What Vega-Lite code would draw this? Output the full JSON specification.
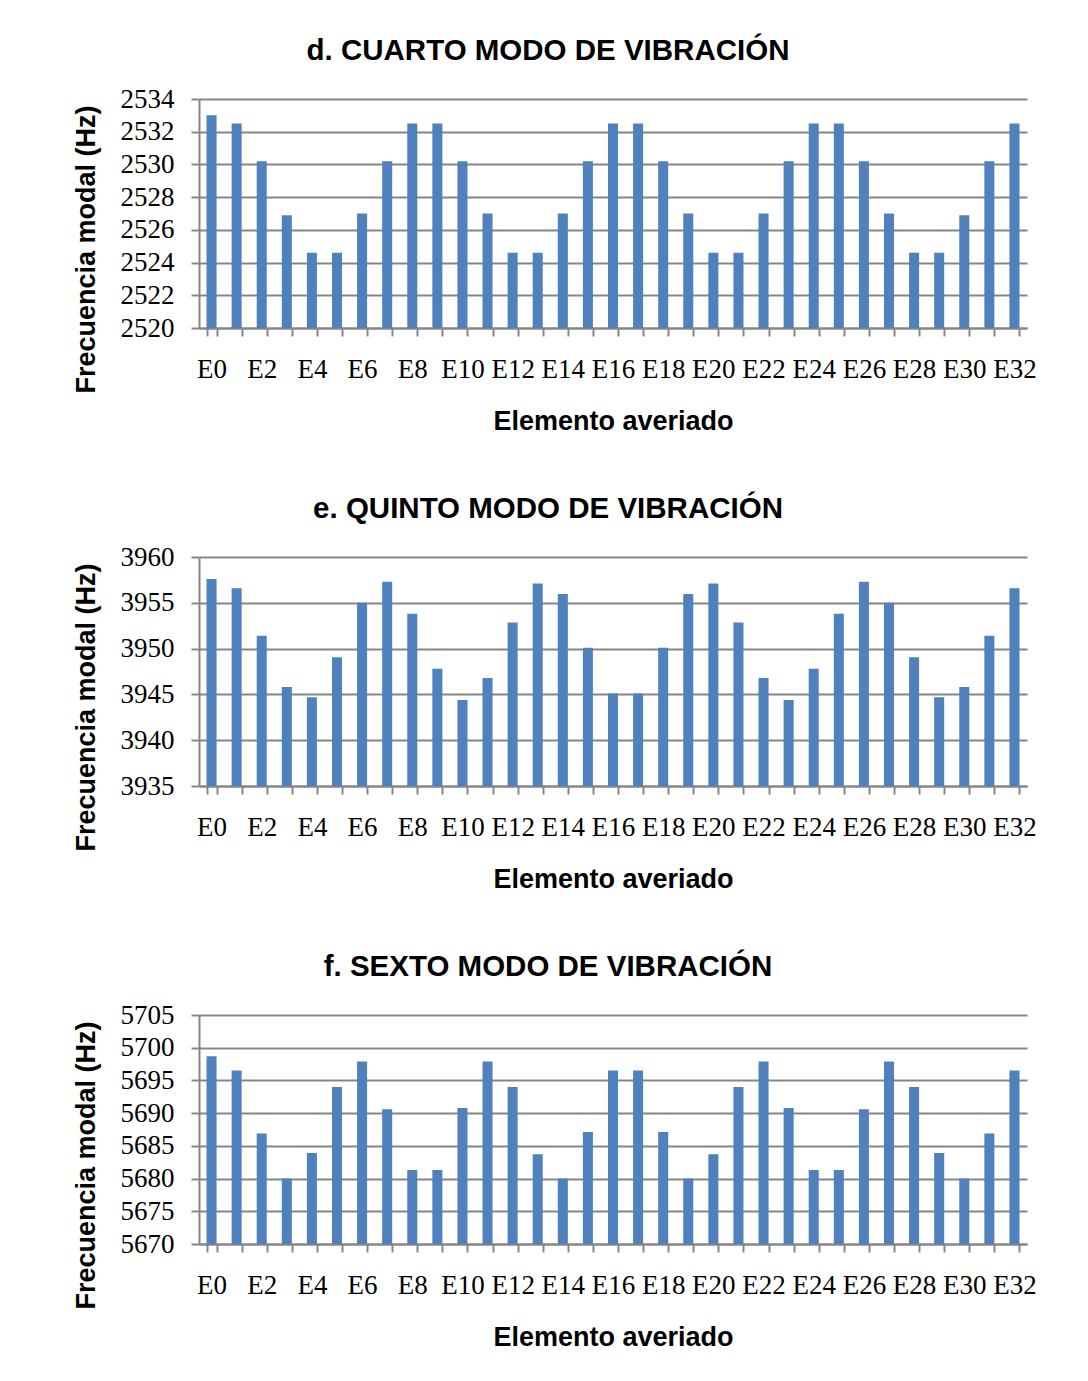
{
  "$schema": "https://vega.github.io/schema/vega-lite/v6.json",
  "background": "white",
  "padding": {"left": 71, "top": 35, "right": 40, "bottom": 5},
  "datasets": {
    "d": [
      {"elemento": "E0", "frecuencia": 2533.0}, {"elemento": "E1", "frecuencia": 2532.5}, {"elemento": "E2", "frecuencia": 2530.2},
      {"elemento": "E3", "frecuencia": 2526.9}, {"elemento": "E4", "frecuencia": 2524.6}, {"elemento": "E5", "frecuencia": 2524.6},
      {"elemento": "E6", "frecuencia": 2527.0}, {"elemento": "E7", "frecuencia": 2530.2}, {"elemento": "E8", "frecuencia": 2532.5},
      {"elemento": "E9", "frecuencia": 2532.5}, {"elemento": "E10", "frecuencia": 2530.2}, {"elemento": "E11", "frecuencia": 2527.0},
      {"elemento": "E12", "frecuencia": 2524.6}, {"elemento": "E13", "frecuencia": 2524.6}, {"elemento": "E14", "frecuencia": 2527.0},
      {"elemento": "E15", "frecuencia": 2530.2}, {"elemento": "E16", "frecuencia": 2532.5}, {"elemento": "E17", "frecuencia": 2532.5},
      {"elemento": "E18", "frecuencia": 2530.2}, {"elemento": "E19", "frecuencia": 2527.0}, {"elemento": "E20", "frecuencia": 2524.6},
      {"elemento": "E21", "frecuencia": 2524.6}, {"elemento": "E22", "frecuencia": 2527.0}, {"elemento": "E23", "frecuencia": 2530.2},
      {"elemento": "E24", "frecuencia": 2532.5}, {"elemento": "E25", "frecuencia": 2532.5}, {"elemento": "E26", "frecuencia": 2530.2},
      {"elemento": "E27", "frecuencia": 2527.0}, {"elemento": "E28", "frecuencia": 2524.6}, {"elemento": "E29", "frecuencia": 2524.6},
      {"elemento": "E30", "frecuencia": 2526.9}, {"elemento": "E31", "frecuencia": 2530.2}, {"elemento": "E32", "frecuencia": 2532.5}
    ],
    "e": [
      {"elemento": "E0", "frecuencia": 3957.6}, {"elemento": "E1", "frecuencia": 3956.6}, {"elemento": "E2", "frecuencia": 3951.4},
      {"elemento": "E3", "frecuencia": 3945.8}, {"elemento": "E4", "frecuencia": 3944.7}, {"elemento": "E5", "frecuencia": 3949.05},
      {"elemento": "E6", "frecuencia": 3955.0}, {"elemento": "E7", "frecuencia": 3957.3}, {"elemento": "E8", "frecuencia": 3953.8},
      {"elemento": "E9", "frecuencia": 3947.8}, {"elemento": "E10", "frecuencia": 3944.4}, {"elemento": "E11", "frecuencia": 3946.8},
      {"elemento": "E12", "frecuencia": 3952.85}, {"elemento": "E13", "frecuencia": 3957.1}, {"elemento": "E14", "frecuencia": 3955.95},
      {"elemento": "E15", "frecuencia": 3950.1}, {"elemento": "E16", "frecuencia": 3945.1}, {"elemento": "E17", "frecuencia": 3945.1},
      {"elemento": "E18", "frecuencia": 3950.1}, {"elemento": "E19", "frecuencia": 3955.95}, {"elemento": "E20", "frecuencia": 3957.1},
      {"elemento": "E21", "frecuencia": 3952.85}, {"elemento": "E22", "frecuencia": 3946.8}, {"elemento": "E23", "frecuencia": 3944.4},
      {"elemento": "E24", "frecuencia": 3947.8}, {"elemento": "E25", "frecuencia": 3953.8}, {"elemento": "E26", "frecuencia": 3957.3},
      {"elemento": "E27", "frecuencia": 3955.0}, {"elemento": "E28", "frecuencia": 3949.05}, {"elemento": "E29", "frecuencia": 3944.7},
      {"elemento": "E30", "frecuencia": 3945.8}, {"elemento": "E31", "frecuencia": 3951.4}, {"elemento": "E32", "frecuencia": 3956.6}
    ],
    "f": [
      {"elemento": "E0", "frecuencia": 5698.7}, {"elemento": "E1", "frecuencia": 5696.5}, {"elemento": "E2", "frecuencia": 5686.9},
      {"elemento": "E3", "frecuencia": 5680.0}, {"elemento": "E4", "frecuencia": 5683.9}, {"elemento": "E5", "frecuencia": 5694.0},
      {"elemento": "E6", "frecuencia": 5697.9}, {"elemento": "E7", "frecuencia": 5690.6}, {"elemento": "E8", "frecuencia": 5681.3},
      {"elemento": "E9", "frecuencia": 5681.3}, {"elemento": "E10", "frecuencia": 5690.8}, {"elemento": "E11", "frecuencia": 5697.9},
      {"elemento": "E12", "frecuencia": 5694.0}, {"elemento": "E13", "frecuencia": 5683.7}, {"elemento": "E14", "frecuencia": 5680.0},
      {"elemento": "E15", "frecuencia": 5687.1}, {"elemento": "E16", "frecuencia": 5696.5}, {"elemento": "E17", "frecuencia": 5696.5},
      {"elemento": "E18", "frecuencia": 5687.1}, {"elemento": "E19", "frecuencia": 5680.0}, {"elemento": "E20", "frecuencia": 5683.7},
      {"elemento": "E21", "frecuencia": 5694.0}, {"elemento": "E22", "frecuencia": 5697.9}, {"elemento": "E23", "frecuencia": 5690.8},
      {"elemento": "E24", "frecuencia": 5681.3}, {"elemento": "E25", "frecuencia": 5681.3}, {"elemento": "E26", "frecuencia": 5690.6},
      {"elemento": "E27", "frecuencia": 5697.9}, {"elemento": "E28", "frecuencia": 5694.0}, {"elemento": "E29", "frecuencia": 5683.9},
      {"elemento": "E30", "frecuencia": 5680.0}, {"elemento": "E31", "frecuencia": 5686.9}, {"elemento": "E32", "frecuencia": 5696.5}
    ]
  },
  "vconcat": [
    {
      "width": 828, "height": 229,
      "title": {"text": "d. CUARTO MODO DE VIBRACIÓN"},
      "data": {"name": "d"},
      "mark": {"type": "bar", "color": "#4F81BD", "clip": true},
      "encoding": {
        "x": {"field": "elemento", "type": "nominal", "sort": null, "title": "Elemento averiado",
              "scale": {"paddingInner": 0.6, "paddingOuter": 0.3}},
        "y": {"field": "frecuencia", "type": "quantitative", "title": "Frecuencia modal (Hz)",
              "scale": {"domain": [2520, 2534], "nice": false, "zero": false},
              "axis": {"values": [2520, 2522, 2524, 2526, 2528, 2530, 2532, 2534]}}
      }
    },
    {
      "width": 828, "height": 229,
      "title": {"text": "e. QUINTO MODO DE VIBRACIÓN"},
      "data": {"name": "e"},
      "mark": {"type": "bar", "color": "#4F81BD", "clip": true},
      "encoding": {
        "x": {"field": "elemento", "type": "nominal", "sort": null, "title": "Elemento averiado",
              "scale": {"paddingInner": 0.6, "paddingOuter": 0.3}},
        "y": {"field": "frecuencia", "type": "quantitative", "title": "Frecuencia modal (Hz)",
              "scale": {"domain": [3935, 3960], "nice": false, "zero": false},
              "axis": {"values": [3935, 3940, 3945, 3950, 3955, 3960]}}
      }
    },
    {
      "width": 828, "height": 229,
      "title": {"text": "f. SEXTO MODO DE VIBRACIÓN"},
      "data": {"name": "f"},
      "mark": {"type": "bar", "color": "#4F81BD", "clip": true},
      "encoding": {
        "x": {"field": "elemento", "type": "nominal", "sort": null, "title": "Elemento averiado",
              "scale": {"paddingInner": 0.6, "paddingOuter": 0.3}},
        "y": {"field": "frecuencia", "type": "quantitative", "title": "Frecuencia modal (Hz)",
              "scale": {"domain": [5670, 5705], "nice": false, "zero": false},
              "axis": {"values": [5670, 5675, 5680, 5685, 5690, 5695, 5700, 5705]}}
      }
    }
  ],
  "spacing": 59,
  "config": {
    "view": {"stroke": null},
    "font": "Liberation Sans",
    "title": {"font": "Liberation Sans", "fontSize": 29.5, "fontWeight": "bold", "color": "black", "anchor": "middle", "dx": -65, "offset": 19},
    "axis": {
      "labelFont": "Liberation Serif", "labelFontSize": 27, "labelColor": "black",
      "titleFont": "Liberation Sans", "titleFontSize": 27, "titleFontWeight": "bold", "titleColor": "black",
      "domainColor": "#868686", "domainWidth": 2, "tickColor": "#868686", "tickWidth": 2, "tickSize": 8,
      "gridColor": "#868686", "gridWidth": 2
    },
    "axisX": {"grid": false, "labelAngle": 0, "tickBand": "extent", "labelPadding": 20, "labelOverlap": false, "titlePadding": 26,
              "labelExpr": "indexof(['E0','E2','E4','E6','E8','E10','E12','E14','E16','E18','E20','E22','E24','E26','E28','E30','E32'], datum.value) >= 0 ? datum.value : ''"},
    "axisY": {"grid": true, "labelPadding": 17, "format": "d", "titleX": -113, "titleY": 150, "titleBaseline": "middle"}
  }
}
